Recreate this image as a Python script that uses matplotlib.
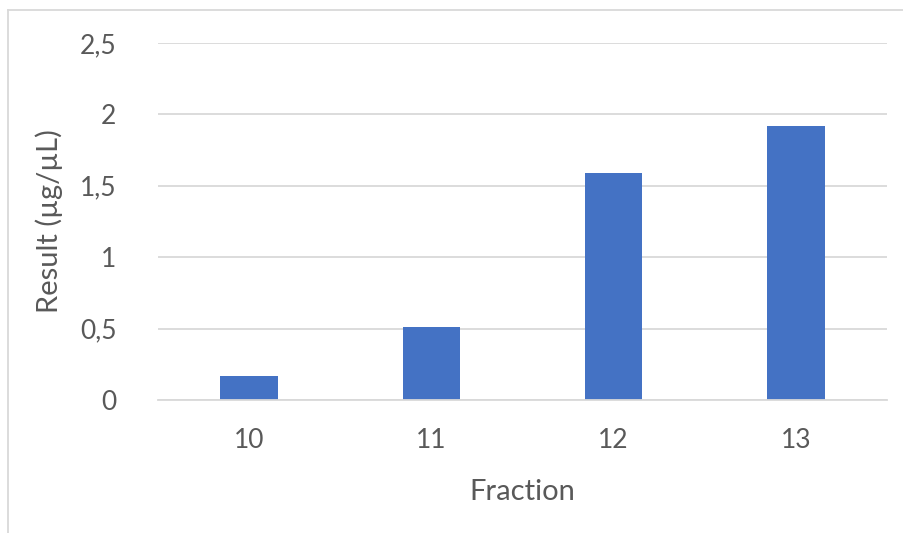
import matplotlib
matplotlib.use("Agg")
import matplotlib.pyplot as plt
from matplotlib.lines import Line2D

fractions = ["10", "11", "12", "13"]
results = [0.17, 0.51, 1.59, 1.92]
y_ticks = [0, 0.5, 1, 1.5, 2, 2.5]
y_tick_labels = ["0", "0,5", "1", "1,5", "2", "2,5"]

W, H = 904, 533
fig = plt.figure(figsize=(W / 100, H / 100), dpi=100)
plt.rcParams["font.family"] = ["Lato", "DejaVu Sans"]
text_color = "#595959"
grid_color = "#d9d9d9"

left, right, top, bottom = 158, 887, 43, 400
ax = fig.add_axes([left / W, 1 - bottom / H, (right - left) / W, (bottom - top) / H])

x = range(len(fractions))
ax.bar(x, results, width=0.315, color="#4472c4", zorder=3)

ax.set_xlim(-0.5, len(fractions) - 0.5)
ax.set_ylim(0, 2.5)
ax.set_yticks(y_ticks)
ax.set_yticklabels(y_tick_labels)
ax.set_xticks(list(x))
ax.set_xticklabels(fractions)

ax.yaxis.grid(True, color=grid_color, linewidth=1.3, zorder=0)
for s in ["top", "right", "left"]:
    ax.spines[s].set_visible(False)
ax.spines["bottom"].set_color(grid_color)
ax.spines["bottom"].set_linewidth(1.3)
ax.spines["bottom"].set_zorder(4)
ax.tick_params(axis="both", length=0, labelsize=19, colors=text_color)
ax.tick_params(axis="y", pad=30)
ax.tick_params(axis="x", pad=20)

ax.set_xlabel("Fraction", fontsize=21, color=text_color, labelpad=19)
ax.set_ylabel("Result (µg/µL)", fontsize=21, color=text_color, labelpad=12)

# chart area outline (top and left edges)
fig.add_artist(Line2D([8 / W, 8 / W], [0, 1 - 10 / H], color=grid_color, linewidth=1.3))
fig.add_artist(Line2D([8 / W, 1], [1 - 10 / H, 1 - 10 / H], color=grid_color, linewidth=1.3))

fig.savefig("out.png", dpi=100, facecolor="white")
